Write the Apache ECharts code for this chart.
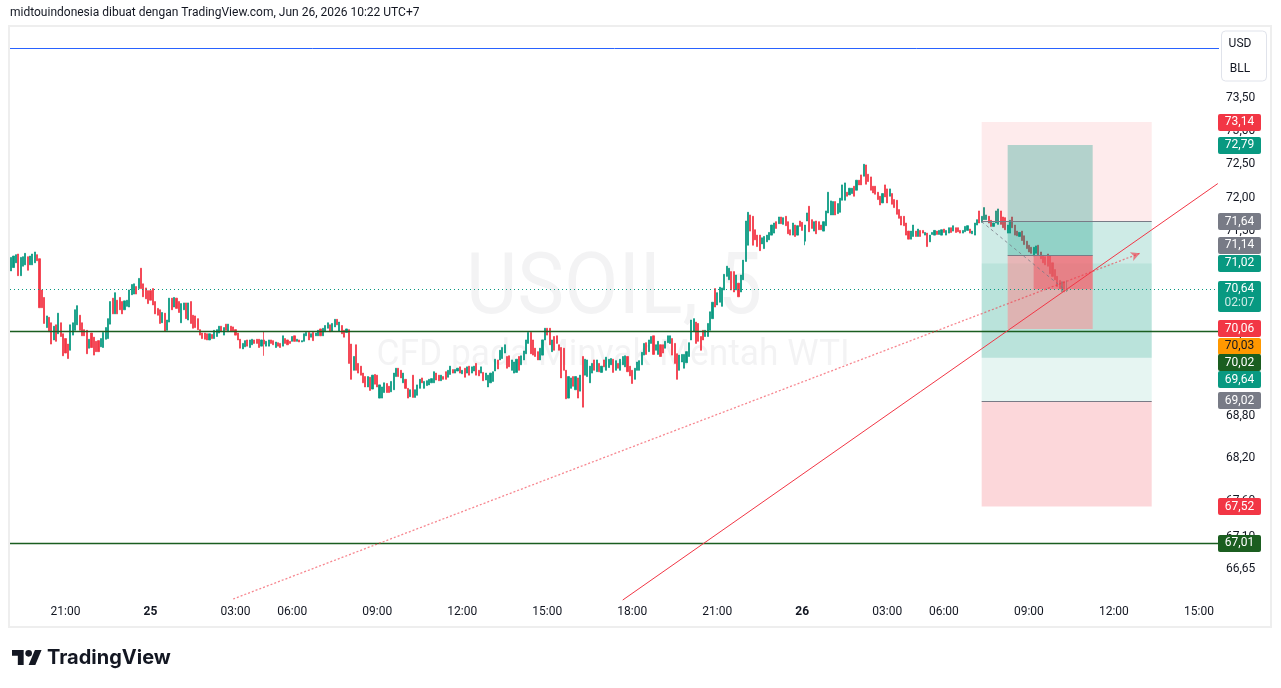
<!DOCTYPE html>
<html><head><meta charset="utf-8">
<script src="https://cdn.jsdelivr.net/npm/echarts@6/dist/echarts.min.js"></script>
<style>html,body{margin:0;padding:0;background:#fff;}#c{width:1281px;height:688px;}</style>
</head><body><div id="c"></div>
<script>
// ---------- DATA ----------
// trading sessions (5-minute bars, UTC+7), daily break 04:00-05:00
const sessions = [
  ['2026-06-24 19:05', '2026-06-25 03:55'],
  ['2026-06-25 05:00', '2026-06-26 03:55'],
  ['2026-06-26 05:00', '2026-06-26 15:40']
];
// candles: [open, close, low, high]
const barsJun24 = [
[70.91,71.11,70.91,71.11],[70.96,71.13,70.96,71.13],[71.03,71.15,71.03,71.15],[71.16,70.84,70.84,71.16],[70.84,71.11,70.84,71.11],[70.98,71.12,70.98,71.12],
[71.00,71.17,71.00,71.17],[71.12,70.92,70.92,71.12],[71.00,71.13,71.00,71.13],[71.00,71.16,71.00,71.16],[71.03,71.19,71.03,71.19],[71.15,71.06,71.06,71.15],
[71.09,70.37,70.37,71.09],[70.63,70.37,70.37,70.63],[70.52,70.14,70.14,70.52],[70.08,70.25,70.08,70.25],[70.23,70.02,70.02,70.23],[70.15,69.84,69.84,70.15],
[69.90,70.10,69.90,70.10],[70.12,69.88,69.88,70.12],[69.99,70.29,69.99,70.29],[70.15,69.95,69.95,70.15],[69.99,69.67,69.67,69.99],[69.92,69.71,69.71,69.92],
[69.84,69.63,69.63,69.84],[69.75,70.12,69.75,70.12],[69.97,70.15,69.97,70.15],[70.04,70.34,70.04,70.34],[70.12,70.40,70.12,70.40],[70.26,70.04,70.04,70.26],
[70.15,69.96,69.96,70.15],[70.05,69.96,69.96,70.05],[70.04,69.70,69.70,70.04],[69.78,69.91,69.78,69.91],[70.00,69.79,69.79,70.00],[69.94,69.68,69.68,69.94],
[69.88,69.73,69.73,69.88],[69.89,69.73,69.73,69.89],[69.80,69.92,69.80,69.92],[69.79,70.01,69.79,70.01],[69.91,70.08,69.91,70.08],[69.92,70.21,69.92,70.21],
[70.13,70.46,70.13,70.46],[70.51,70.28,70.28,70.51],[70.28,70.59,70.28,70.59],[70.48,70.28,70.28,70.48],[70.52,70.34,70.34,70.52],[70.46,70.28,70.28,70.46],
[70.34,70.47,70.34,70.47],[70.39,70.48,70.39,70.48],[70.38,70.63,70.38,70.63],[70.56,70.71,70.56,70.71],[70.57,70.72,70.57,70.72],[70.68,70.57,70.57,70.68],
[70.65,70.80,70.65,70.80],[70.95,70.65,70.65,70.95],[70.72,70.53,70.53,70.72],[70.66,70.50,70.50,70.66],[70.62,70.43,70.43,70.62]
];
const barsJun25Early = [
[70.62,70.48,70.48,70.62],[70.65,70.41,70.41,70.65],[70.46,70.28,70.28,70.46],[70.36,70.26,70.26,70.36],[70.34,70.14,70.14,70.34],[70.15,70.30,70.15,70.30],
[70.29,70.03,70.03,70.29],[70.04,70.19,70.04,70.19],[70.16,70.51,70.16,70.51],[70.51,70.34,70.34,70.51],[70.38,70.52,70.38,70.52],[70.51,70.36,70.36,70.51],
[70.46,70.30,70.30,70.46],[70.15,70.43,70.15,70.43],[70.34,70.44,70.34,70.44],[70.44,70.21,70.21,70.44],[70.19,70.44,70.19,70.44],[70.46,70.14,70.14,70.46],
[70.26,70.07,70.07,70.26],[70.25,70.08,70.08,70.25],[70.21,70.05,70.05,70.21],[70.05,69.97,69.97,70.05],[70.00,69.92,69.92,70.00],[70.00,69.91,69.91,70.00],
[69.99,69.90,69.90,69.99],[69.90,69.99,69.90,69.99],[69.98,69.92,69.92,69.98],[69.92,70.04,69.92,70.04],[69.95,70.05,69.95,70.05],[70.00,70.10,70.00,70.10],
[70.10,70.02,70.02,70.10],[69.97,70.08,69.97,70.08],[70.13,70.04,70.04,70.13],[70.02,70.13,70.02,70.13],[70.10,70.02,70.02,70.10],[70.09,70.02,70.02,70.09],
[70.05,69.97,69.97,70.05],[70.00,69.90,69.90,70.00],[69.91,69.78,69.78,69.91],[69.77,69.85,69.77,69.85],[69.80,69.89,69.80,69.89],[69.90,69.81,69.81,69.90],
[69.79,69.90,69.79,69.90],[69.83,69.91,69.83,69.91],[69.90,69.85,69.85,69.90],[69.91,69.85,69.85,69.91],[69.91,69.79,69.79,69.91],[69.81,69.90,69.81,69.90]
];
const barsJun25Morning = [
[69.90,69.84,69.67,70.03],[69.81,69.88,69.81,69.88],[69.81,69.90,69.81,69.90],[69.90,69.85,69.85,69.90],[69.89,69.83,69.83,69.89],[69.79,69.87,69.79,69.87],
[69.86,69.81,69.81,69.86],[69.85,69.79,69.79,69.85],[69.81,69.96,69.81,69.96],[69.92,69.85,69.85,69.92],[69.90,69.83,69.83,69.90],[69.88,69.85,69.85,69.88],
[69.88,69.95,69.88,69.95],[69.96,69.88,69.88,69.96],[69.88,69.91,69.88,69.91],[69.90,69.87,69.87,69.90],[69.87,69.89,69.87,69.89],[69.88,69.99,69.88,69.99],
[69.96,70.01,69.96,70.01],[70.01,69.90,69.90,70.01],[69.94,69.99,69.94,69.99],[70.01,69.89,69.89,70.01],[69.96,70.00,69.96,70.00],[69.96,70.04,69.96,70.04],
[70.06,69.96,69.96,70.06],[69.96,70.07,69.96,70.07],[70.02,70.11,70.02,70.11],[70.07,70.15,70.07,70.15],[70.12,70.02,70.02,70.12],[70.03,70.14,70.03,70.14],
[70.09,70.20,70.09,70.20],[70.20,70.12,70.12,70.20],[70.03,70.16,70.03,70.16],[70.11,69.99,69.99,70.11],[70.04,69.94,69.94,70.04],[70.01,70.06,70.01,70.06],
[70.05,69.56,69.56,70.05],[69.84,69.33,69.33,69.84],[69.46,69.66,69.46,69.66],[69.83,69.46,69.46,69.83],[69.56,69.42,69.42,69.56],[69.52,69.39,69.39,69.52],
[69.42,69.28,69.28,69.42],[69.37,69.22,69.22,69.37],[69.22,69.37,69.22,69.37],[69.36,69.17,69.17,69.36],[69.19,69.39,69.19,69.39],[69.40,69.26,69.26,69.40],
[69.39,69.22,69.22,69.39],[69.06,69.25,69.06,69.25],[69.06,69.22,69.06,69.22],[69.14,69.28,69.14,69.28],[69.27,69.14,69.14,69.27],[69.23,69.14,69.14,69.23],
[69.15,69.30,69.15,69.30],[69.18,69.42,69.18,69.42],[69.37,69.49,69.37,69.49],[69.49,69.37,69.37,69.49],[69.46,69.35,69.35,69.46],[69.28,69.42,69.28,69.42],
[69.33,69.20,69.20,69.33],[69.20,69.06,69.06,69.20],[69.08,69.18,69.08,69.18],[69.39,69.07,69.07,69.39],[69.07,69.18,69.07,69.18],[69.10,69.25,69.10,69.25],
[69.20,69.33,69.20,69.33],[69.35,69.28,69.28,69.35],[69.20,69.30,69.20,69.30],[69.24,69.31,69.24,69.31],[69.25,69.33,69.25,69.33],[69.28,69.34,69.28,69.34],
[69.28,69.44,69.28,69.44],[69.42,69.32,69.32,69.42],[69.39,69.31,69.31,69.39],[69.31,69.39,69.31,69.39],[69.37,69.33,69.33,69.37],[69.44,69.33,69.33,69.44],
[69.36,69.46,69.36,69.46],[69.40,69.52,69.40,69.52],[69.47,69.42,69.42,69.47],[69.42,69.47,69.42,69.47],[69.45,69.49,69.45,69.49],[69.51,69.42,69.42,69.51]
];
const barsJun25Afternoon = [
[69.41,69.46,69.41,69.46],[69.49,69.36,69.36,69.49],[69.42,69.51,69.42,69.51],[69.52,69.39,69.39,69.52],[69.42,69.51,69.42,69.51],[69.45,69.52,69.45,69.52],
[69.56,69.39,69.39,69.56],[69.46,69.38,69.38,69.46],[69.42,69.51,69.42,69.51],[69.43,69.31,69.31,69.43],[69.32,69.42,69.32,69.42],[69.22,69.39,69.22,69.39],
[69.28,69.42,69.28,69.42],[69.30,69.44,69.30,69.44],[69.45,69.62,69.45,69.62],[69.61,69.48,69.48,69.61],[69.61,69.75,69.61,69.75],[69.63,69.79,69.63,69.79],
[69.71,69.83,69.71,69.83],[69.66,69.49,69.49,69.66],[69.67,69.51,69.51,69.67],[69.46,69.61,69.46,69.61],[69.42,69.58,69.42,69.58],[69.43,69.62,69.43,69.62],
[69.66,69.46,69.46,69.66],[69.54,69.67,69.54,69.67],[69.61,69.74,69.61,69.74],[69.70,69.90,69.70,69.90],[69.85,70.01,69.85,70.01],[70.01,69.70,69.70,70.01],
[69.90,69.68,69.68,69.90],[69.78,69.66,69.66,69.78],[69.73,69.61,69.61,69.73],[69.61,69.78,69.61,69.78],[69.68,69.90,69.68,69.90],[69.90,70.07,69.90,70.07],
[70.07,69.97,69.97,70.07],[70.07,69.83,69.83,70.07],[69.73,69.90,69.73,69.90],[69.95,69.75,69.75,69.95],[69.96,69.85,69.85,69.96],[69.83,69.75,69.75,69.83],
[69.79,69.35,69.35,69.79],[69.78,69.46,69.46,69.78],[69.46,69.05,69.05,69.46],[69.06,69.37,69.06,69.37],[69.20,69.35,69.20,69.35],[69.37,69.23,69.23,69.37],
[69.18,69.37,69.18,69.37],[69.35,69.06,69.06,69.35],[69.16,69.39,69.16,69.39],[69.66,68.93,68.93,69.66],[69.39,69.62,69.39,69.62],[69.37,69.61,69.37,69.61],
[69.28,69.52,69.28,69.52],[69.42,69.56,69.42,69.56],[69.61,69.46,69.46,69.61],[69.44,69.61,69.44,69.61],[69.56,69.44,69.44,69.56],[69.43,69.52,69.43,69.52],
[69.61,69.51,69.51,69.61],[69.46,69.65,69.46,69.65],[69.50,69.62,69.50,69.62],[69.54,69.63,69.54,69.63],[69.62,69.43,69.43,69.62],[69.46,69.60,69.46,69.60],
[69.56,69.49,69.49,69.56],[69.46,69.62,69.46,69.62],[69.54,69.66,69.54,69.66],[69.51,69.67,69.51,69.67],[69.66,69.44,69.44,69.66],[69.52,69.38,69.38,69.52]
];
const barsJun25Evening = [
[69.46,69.27,69.27,69.46],[69.33,69.49,69.33,69.49],[69.46,69.58,69.46,69.58],[69.46,69.60,69.46,69.60],[69.54,69.72,69.54,69.72],[69.68,69.85,69.68,69.85],
[69.86,69.69,69.69,69.86],[69.73,69.90,69.73,69.90],[69.85,69.95,69.85,69.95],[69.96,69.69,69.69,69.96],[69.75,69.83,69.75,69.83],[69.69,69.88,69.69,69.88],
[69.83,69.66,69.66,69.83],[69.83,69.71,69.71,69.83],[69.78,69.88,69.78,69.88],[69.86,69.96,69.86,69.96],[69.85,69.96,69.85,69.96],[69.92,69.68,69.68,69.92],
[69.85,69.56,69.56,69.85],[69.70,69.33,69.33,69.70],[69.46,69.68,69.46,69.68],[69.58,69.69,69.58,69.69],[69.49,69.69,69.49,69.69],[69.57,69.73,69.57,69.73],
[69.66,69.86,69.66,69.86],[69.90,70.19,69.90,70.19],[70.02,70.21,70.02,70.21],[70.16,69.85,69.85,70.16],[70.14,69.88,69.88,70.14],[69.95,69.75,69.75,69.95],
[70.04,69.90,69.90,70.04],[69.95,70.04,69.95,70.04],[69.95,70.14,69.95,70.14],[70.04,70.31,70.04,70.31],[70.21,70.45,70.21,70.45],[70.65,70.38,70.38,70.65],
[70.41,70.59,70.41,70.59],[70.45,70.67,70.45,70.67],[70.39,70.66,70.39,70.66],[70.63,70.86,70.63,70.86],[70.83,70.98,70.83,70.98],[70.78,70.95,70.78,70.95],
[70.90,70.63,70.63,70.90],[70.90,70.60,70.60,70.90],[70.63,70.85,70.63,70.85],[70.73,70.53,70.53,70.73],[70.60,70.85,70.60,70.85],[70.78,71.07,70.78,71.07],
[71.05,71.65,71.05,71.65],[71.29,71.78,71.29,71.78],[71.74,71.50,71.50,71.74],[71.72,71.29,71.29,71.72],[71.52,71.37,71.37,71.52],[71.44,71.27,71.27,71.44],
[71.44,71.21,71.21,71.44],[71.31,71.40,71.31,71.40],[71.24,71.42,71.24,71.42],[71.34,71.44,71.34,71.44],[71.37,71.48,71.37,71.48],[71.44,71.59,71.44,71.59],
[71.47,71.62,71.47,71.62],[71.64,71.54,71.54,71.64],[71.61,71.71,71.61,71.71],[71.71,71.61,71.61,71.71],[71.60,71.70,71.60,71.70],[71.72,71.58,71.58,71.72],
[71.64,71.46,71.46,71.64],[71.52,71.44,71.44,71.52],[71.44,71.62,71.44,71.62],[71.59,71.42,71.42,71.59],[71.44,71.58,71.44,71.58],[71.65,71.57,71.57,71.65]
];
const barsJun26Early = [
[71.63,71.51,71.51,71.63],[71.35,71.59,71.29,71.59],[71.65,71.77,71.65,71.77],[71.87,71.49,71.49,71.87],[71.67,71.54,71.54,71.67],[71.50,71.64,71.50,71.64],
[71.65,71.46,71.46,71.65],[71.64,71.52,71.52,71.64],[71.59,71.52,71.52,71.59],[71.50,71.64,71.50,71.64],[71.58,71.80,71.58,71.80],[71.77,72.08,71.77,72.08],
[71.74,71.95,71.74,71.95],[71.74,71.94,71.74,71.94],[71.94,71.74,71.74,71.94],[71.76,71.91,71.76,71.91],[71.78,71.99,71.78,71.99],[71.96,72.19,71.96,72.19],
[71.96,72.22,71.96,72.22],[72.08,72.02,72.02,72.08],[72.04,72.14,72.04,72.14],[72.06,72.14,72.06,72.14],[72.17,72.02,72.02,72.17],[72.11,72.26,72.11,72.26],
[72.26,72.19,72.19,72.26],[72.34,72.19,72.19,72.34],[72.32,72.50,72.32,72.50],[72.49,72.20,72.20,72.49],[72.35,72.24,72.24,72.35],[72.31,72.11,72.11,72.31],
[72.17,72.07,72.07,72.17],[72.17,72.05,72.05,72.17],[72.08,71.97,71.97,72.08],[72.02,71.89,71.89,72.02],[71.92,72.06,71.92,72.06],[72.19,72.01,72.01,72.19],
[72.13,71.92,71.92,72.13],[72.02,72.13,72.02,72.13],[72.06,71.90,71.90,72.06],[71.97,71.85,71.85,71.97],[71.96,71.75,71.75,71.96],[71.82,71.69,71.69,71.82],
[71.72,71.59,71.59,71.72],[71.72,71.58,71.58,71.72],[71.62,71.44,71.44,71.62],[71.50,71.38,71.38,71.50],[71.38,71.50,71.38,71.50],[71.42,71.59,71.42,71.59]
];
const barsJun26Day = [
[71.50,71.42,71.42,71.50],[71.42,71.53,71.42,71.53],[71.51,71.42,71.42,71.51],[71.51,71.47,71.47,71.51],[71.44,71.48,71.44,71.48],[71.47,71.27,71.27,71.47],
[71.34,71.44,71.34,71.44],[71.45,71.48,71.45,71.48],[71.44,71.51,71.44,71.51],[71.50,71.45,71.45,71.50],[71.45,71.51,71.45,71.51],[71.44,71.52,71.44,71.52],
[71.53,71.48,71.48,71.53],[71.44,71.51,71.44,71.51],[71.47,71.55,71.47,71.55],[71.55,71.48,71.48,71.55],[71.50,71.58,71.50,71.58],[71.55,71.48,71.48,71.55],
[71.55,71.49,71.49,71.55],[71.51,71.47,71.47,71.51],[71.47,71.51,71.47,71.51],[71.49,71.57,71.49,71.57],[71.51,71.58,71.51,71.58],[71.53,71.47,71.47,71.53],
[71.46,71.50,71.46,71.50],[71.44,71.62,71.44,71.62],[71.59,71.67,71.59,71.67],[71.80,71.62,71.62,71.80],[71.63,71.72,71.63,71.72],[71.67,71.85,71.67,71.85],
[71.67,71.74,71.67,71.74],[71.72,71.62,71.62,71.72],[71.66,71.57,71.57,71.66],[71.57,71.62,71.57,71.62],[71.62,71.80,71.62,71.80],[71.60,71.83,71.60,71.83],
[71.80,71.60,71.60,71.80],[71.71,71.55,71.55,71.71],[71.70,71.52,71.52,71.70],[71.47,71.59,71.47,71.59],[71.47,71.66,71.47,71.66],[71.71,71.55,71.55,71.71],
[71.59,71.44,71.44,71.59],[71.50,71.43,71.43,71.50],[71.42,71.48,71.42,71.48],[71.50,71.36,71.36,71.50],[71.43,71.30,71.30,71.43],[71.35,71.24,71.24,71.35],
[71.29,71.19,71.19,71.29],[71.26,71.17,71.17,71.26],[71.13,71.26,71.13,71.26],[71.17,71.28,71.17,71.28],[71.29,71.14,71.14,71.29],[71.19,71.09,71.09,71.19],
[71.14,71.03,71.03,71.14],[71.12,71.00,71.00,71.12],[71.16,70.98,70.98,71.16],[71.13,70.87,70.87,71.13],[71.03,70.83,70.83,71.03],[70.93,70.78,70.78,70.93],
[70.83,70.68,70.68,70.83],[70.77,70.65,70.65,70.77],[70.60,70.75,70.60,70.75],[70.75,70.60,70.60,70.75],[70.62,70.64,70.60,70.77]
];
// price axis tick labels
const yTickValues = [73.5, 73.0, 72.5, 72.0, 71.5, 71.0, 70.5, 70.0, 69.4, 68.8, 68.2, 67.6, 67.1, 66.65];
const yRange = [66.221, 74.599];
// horizontal levels
const blueLevel = 74.27;
const orangeLevel = 70.03;
const greenLevelHigh = 70.02;
const greenLevelLow = 67.01;
const lastPrice = 70.64;
const countdown = '02:07';
// position tools: [entry, stop, target]
const outerShort = [71.64, 73.14, 69.64];
const outerLong = [69.02, 67.52, 71.02];
const innerLong = [71.14, 70.06, 72.79];
const outerSpan = ['2026-06-26 07:20', '2026-06-26 13:20'];
const innerSpan = ['2026-06-26 08:15', '2026-06-26 11:15'];
const pnlStart = '2026-06-26 09:10';
// trend lines [time, price]
const trendSolid = [['2026-06-25 17:40', 66.221], ['2026-06-26 15:40', 72.21]];
const trendDotted = [['2026-06-25 02:55', 66.235], ['2026-06-26 12:55', 71.17]];
const pnlPath = [['2026-06-26 07:20', 71.64], ['2026-06-26 10:15', 70.64]];
const headerText = 'midtouindonesia dibuat dengan TradingView.com, Jun 26, 2026 10:22 UTC+7';
const watermark = ['USOIL, 5', 'CFD pada Minyak Mentah WTI'];
const currencyBox = ['USD', 'BLL'];

// ---------- BUILD ----------
function parseT(s){const [d,t]=s.split(' ');const [Y,M,D]=d.split('-').map(Number);const [h,m]=t.split(':').map(Number);return Date.UTC(Y,M-1,D,h,m);}
function fmtT(ms){const d=new Date(ms);const p=n=>String(n).padStart(2,'0');return d.getUTCFullYear()+'-'+p(d.getUTCMonth()+1)+'-'+p(d.getUTCDate())+' '+p(d.getUTCHours())+':'+p(d.getUTCMinutes());}
const categories=[];
sessions.forEach(([a,b])=>{for(let t=parseT(a);t<=parseT(b);t+=300000)categories.push(fmtT(t));});
const candles=[].concat(barsJun24,barsJun25Early,barsJun25Morning,barsJun25Afternoon,barsJun25Evening,barsJun26Early,barsJun26Day);

const FONT='Roboto, "Noto Sans", sans-serif';
const UP='#089981', DOWN='#F23645', GRAY='#787B86', DGREEN='#1B5E20';
const fmtP=v=>v.toFixed(2).replace('.',',');

// position boxes: [from, to, bottom, top]
const boxes=[
  [outerSpan[0],outerSpan[1],outerShort[0],outerShort[1]],
  [outerSpan[0],outerSpan[1],outerShort[2],outerShort[0]],
  [outerSpan[0],outerSpan[1],outerLong[0],outerLong[2]],
  [outerSpan[0],outerSpan[1],outerLong[1],outerLong[0]],
  [innerSpan[0],innerSpan[1],innerLong[0],innerLong[2]],
  [innerSpan[0],innerSpan[1],innerLong[1],innerLong[0]],
  [pnlStart,innerSpan[1],lastPrice,innerLong[0]]
];
const boxFills=['rgba(242,54,69,0.10)','rgba(8,153,129,0.20)','rgba(8,153,129,0.10)','rgba(242,54,69,0.20)','rgba(8,153,129,0.30)','rgba(255,135,140,0.52)','rgba(242,54,69,0.40)'];

const seg=(pts,style,endSym)=>[{coord:pts[0],symbol:'none',lineStyle:style},{coord:pts[1],symbol:endSym||'none',symbolSize:endSym?[7,9]:0}];

const option={
  animation:false,
  backgroundColor:'#ffffff',
  grid:{left:10,right:62,top:27,bottom:88},
  xAxis:{
    type:'category',data:categories,boundaryGap:true,
    axisLine:{show:false},axisTick:{show:false},splitLine:{show:false},
    axisLabel:{
      interval:(i,v)=>{const hh=+v.slice(11,13),mm=+v.slice(14,16);return mm===0&&hh%3===0;},
      formatter:v=>v.slice(11,13)==='00'?'{b|'+(+v.slice(8,10))+'}':v.slice(11,16),
      color:'#131722',fontSize:12,fontFamily:FONT,margin:6,
      rich:{b:{fontWeight:'bold',fontSize:12,color:'#131722',fontFamily:FONT}}
    }
  },
  yAxis:{
    type:'log',logBase:10,min:yRange[0],max:yRange[1],position:'right',
    axisLine:{show:false},axisTick:{show:false},splitLine:{show:false},
    axisLabel:{customValues:yTickValues,formatter:v=>fmtP(v),color:'#131722',fontSize:12,fontFamily:FONT,margin:7}
  },
  series:[
    {
      type:'candlestick',data:candles,barWidth:1.6,z:2,
      itemStyle:{color:UP,color0:DOWN,borderColor:UP,borderColor0:DOWN,borderWidth:0.8},
      markLine:{
        silent:true,animation:false,symbol:['none','none'],label:{show:false},
        data:[
          {yAxis:blueLevel,lineStyle:{color:'#2962FF',width:1,type:'solid'}},
          {yAxis:orangeLevel,lineStyle:{color:'#FF9800',width:1,type:[1,2],opacity:0.7}},
          {yAxis:greenLevelHigh,lineStyle:{color:DGREEN,width:1.3,type:'solid'}},
          {yAxis:greenLevelLow,lineStyle:{color:DGREEN,width:1.3,type:'solid'}},
          {yAxis:lastPrice,lineStyle:{color:UP,width:1,type:[1,3]}},
          seg([[outerSpan[0],outerShort[0]],[outerSpan[1],outerShort[0]]],{color:GRAY,width:1,type:'solid'}),
          seg([[outerSpan[0],outerLong[0]],[outerSpan[1],outerLong[0]]],{color:GRAY,width:1,type:'solid'}),
          seg([[innerSpan[0],innerLong[0]],[innerSpan[1],innerLong[0]]],{color:GRAY,width:1,type:'solid'}),
          seg(pnlPath,{color:GRAY,width:1,type:[3,3],opacity:0.8}),
          seg(trendDotted,{color:'#F23645',width:1.3,type:[2,2],opacity:0.6},'arrow'),
          seg(trendSolid,{color:'#F23645',width:1,type:'solid'})
        ]
      }
    },
    {
      type:'custom',z:3,silent:true,data:boxes,
      encode:{x:[0,1],y:[2,3]},
      renderItem:(params,api)=>{
        const p1=api.coord([api.value(0),api.value(3)]);
        const p2=api.coord([api.value(1),api.value(2)]);
        return {type:'rect',shape:{x:p1[0],y:p1[1],width:p2[0]-p1[0],height:p2[1]-p1[1]},style:{fill:boxFills[params.dataIndex]}};
      }
    }
  ]
};

const chart=echarts.init(document.getElementById('c'),null,{renderer:'canvas',width:1281,height:688});
chart.setOption(option);

const txt=(o)=>Object.assign({align:'center',verticalAlign:'middle',textAlign:'center',textVerticalAlign:'middle'},o);
// TradingView logo mark (scaled shapes)
const s=0.833, ox=12, oy=646.7;
const P=(X,Y)=>[ox+X*s,oy+Y*s];
const staticEls=[
  {type:'text',z:0,x:614,y:292,scaleX:0.93,style:txt({text:watermark[0],x:0,y:0,font:'85px '+FONT,fill:'rgba(19,23,34,0.05)'})},
  {type:'text',z:0,x:613,y:356,scaleX:0.955,style:txt({text:watermark[1],x:0,y:0,font:'37px '+FONT,fill:'rgba(19,23,34,0.05)'})},
  {type:'text',z:10,style:txt({text:headerText,x:10,y:13,font:'12px '+FONT,fill:'#131722',align:'left',textAlign:'left'})},
  {type:'rect',z:10,shape:{x:9,y:26,width:1262,height:601},style:{fill:'none',stroke:'#EEEEEE',lineWidth:2}},
  {type:'rect',z:10,shape:{x:1221.5,y:31,width:45,height:50,r:4},style:{fill:'#ffffff',stroke:'#E0E3EB',lineWidth:1}},
  {type:'text',z:11,style:txt({text:currencyBox[0],x:1240,y:44,font:'12px '+FONT,fill:'#131722'})},
  {type:'text',z:11,style:txt({text:currencyBox[1],x:1240,y:69,font:'12px '+FONT,fill:'#131722'})},
  {type:'polygon',z:10,shape:{points:[P(0,4),P(14,4),P(14,22),P(7,22),P(7,11),P(0,11)]},style:{fill:'#131722'}},
  {type:'polygon',z:10,shape:{points:[P(20,22),P(27.5,4),P(35.5,4),P(28,22)]},style:{fill:'#131722'}},
  {type:'circle',z:10,shape:{cx:ox+20*s,cy:oy+8*s,r:4*s},style:{fill:'#131722'}},
  {type:'text',z:10,style:txt({text:'TradingView',x:47,y:658,font:'bold 20px Inter, '+FONT,fill:'#131722',align:'left',textAlign:'left'})}
];

const tagColors={red:['#F23645','#ffffff'],teal:[UP,'#ffffff'],gray:[GRAY,'#ffffff'],orange:['#FF9800','#131722'],green:[DGREEN,'#ffffff']};
const priceTags=[
  [outerShort[1],'red',0],[innerLong[2],'teal',0],[outerShort[0],'gray',0],[innerLong[0],'gray',-10],
  [outerLong[2],'teal',0],[lastPrice,'teal',0,countdown],[innerLong[1],'red',0],[orangeLevel,'orange',15],
  [greenLevelHigh,'green',31],[outerShort[2],'teal',22],[outerLong[0],'gray',0],[outerLong[1],'red',0],[greenLevelLow,'green',0]
];
const tagEls=[];
priceTags.forEach(t=>{
  const yc=chart.convertToPixel({yAxisIndex:0},t[0])+t[2];
  const c=tagColors[t[1]];
  const h=t[3]?31:17;
  tagEls.push({type:'rect',z:50,shape:{x:1218,y:Math.round(yc-8.5),width:43,height:h,r:2},style:{fill:c[0]}});
  tagEls.push({type:'text',z:51,style:txt({text:fmtP(t[0]),x:1239.5,y:yc,font:'12px '+FONT,fill:c[1]})});
  if(t[3])tagEls.push({type:'text',z:51,style:txt({text:t[3],x:1239.5,y:yc+14,font:'12px '+FONT,fill:'rgba(255,255,255,0.8)'})});
});
chart.setOption({graphic:staticEls.concat(tagEls)});
</script></body></html>
